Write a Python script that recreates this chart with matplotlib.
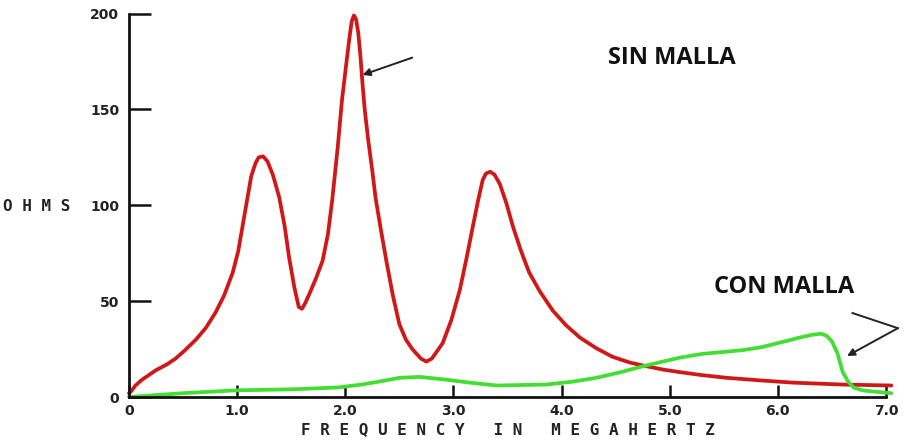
import matplotlib
matplotlib.use("Agg")
import matplotlib.pyplot as plt

# readings (MHz, ohms)
sin_freq = [0.0, 0.02, 0.06, 0.12, 0.25, 0.35, 0.43, 0.52, 0.62, 0.71, 0.80, 0.88,
            0.96, 1.01, 1.05, 1.09, 1.13, 1.17, 1.20, 1.24, 1.28, 1.33, 1.39, 1.44,
            1.48, 1.53, 1.57, 1.60, 1.63, 1.67, 1.73, 1.79, 1.84, 1.88, 1.93, 1.97,
            2.01, 2.04, 2.06, 2.08, 2.10, 2.12, 2.14, 2.16, 2.18, 2.21, 2.25, 2.28,
            2.33, 2.38, 2.44, 2.50, 2.56, 2.62, 2.70, 2.75, 2.80, 2.90, 2.98, 3.06,
            3.12, 3.18, 3.23, 3.27, 3.30, 3.34, 3.38, 3.43, 3.49, 3.55, 3.62, 3.70,
            3.80, 3.92, 4.04, 4.17, 4.32, 4.47, 4.63, 4.79, 4.94, 5.09, 5.30, 5.53,
            5.83, 6.14, 6.60, 7.05]
sin_ohms = [2, 3, 6, 9, 14, 17, 20, 24.5, 30, 36, 44, 53,
            65, 76, 89, 102, 115, 122, 125, 125.5, 123, 116, 104, 89,
            73, 57, 47, 46, 49, 54, 62, 71, 85, 103, 130, 155,
            174, 188, 196, 199, 197, 190, 178, 163, 150, 135, 118, 104,
            87, 71, 53, 38, 30, 25, 20, 18.5, 20, 28, 40, 56,
            72, 89, 103, 113, 116.5, 117.5, 116, 111, 101, 89, 77, 65,
            55, 45, 37.5, 31, 25.5, 21, 18, 16, 14.3, 13, 11.4, 10,
            8.7, 7.5, 6.5, 6]

con_freq = [0.0, 0.5, 1.0, 1.5, 1.94, 2.15, 2.31, 2.50, 2.69, 2.94, 3.15, 3.40,
            3.86, 4.10, 4.32, 4.55, 4.75, 4.90, 5.09, 5.30, 5.50, 5.68, 5.85, 5.99,
            6.10, 6.20, 6.32, 6.40, 6.45, 6.50, 6.55, 6.60, 6.65, 6.70, 6.78, 6.86,
            7.05]
con_ohms = [0, 2, 3.5, 4, 5, 6.5, 8, 10, 10.5, 9, 7.5, 6,
            6.5, 8, 10, 13, 16, 18, 20.5, 22.5, 23.5, 24.5, 26, 28,
            29.5, 31, 32.5, 33, 32, 29, 23, 13, 8, 5, 3.5, 3,
            2]

yticks = [0, 50, 100, 150, 200]
xticks = [0, 1, 2, 3, 4, 5, 6, 7]
xtick_labels = ["0", "1.0", "2.0", "3.0", "4.0", "5.0", "6.0", "7.0"]

fig = plt.figure(figsize=(9.05, 4.48), dpi=100)
ax = fig.add_axes([0.1425, 0.1138, 0.8365, 0.856])

ax.plot(sin_freq, sin_ohms, color="#d01818", lw=2.7, clip_on=False,
        solid_capstyle="round", solid_joinstyle="round")
ax.plot(con_freq, con_ohms, color="#44dd33", lw=2.7, clip_on=False,
        solid_capstyle="round", solid_joinstyle="round")

ax.set_xlim(0, 7)
ax.set_ylim(0, 200)
for s in ("top", "right"):
    ax.spines[s].set_visible(False)
for s in ("left", "bottom"):
    ax.spines[s].set_linewidth(2.0)
    ax.spines[s].set_color("#111111")

ax.set_yticks(yticks)
ax.set_xticks(xticks)
ax.set_xticklabels(xtick_labels)
ax.tick_params(axis="y", direction="in", length=16, width=1.8, pad=7, color="#111111")
ax.tick_params(axis="x", direction="in", length=9, width=1.8, pad=5, color="#111111")
for lab in ax.get_xticklabels() + ax.get_yticklabels():
    lab.set_fontfamily("DejaVu Sans")
    lab.set_fontweight("bold")
    lab.set_fontsize(10)
    lab.set_color("#222222")

ax.set_xlabel("F R E Q U E N C Y   I N   M E G A H E R T Z", family="DejaVu Sans Mono",
              fontweight="bold", fontsize=11.5, color="#222222", labelpad=3)
fig.text(3 / 905, 1 - 206 / 448, "O H M S", family="DejaVu Sans Mono", fontweight="bold",
         fontsize=11.5, color="#222222", ha="left", va="center")

ax.text(5.02, 177, "SIN MALLA", family="Open Sans", fontweight="bold", fontsize=17,
        ha="center", va="center", color="#111111")
ax.text(6.06, 57.3, "CON MALLA", family="Open Sans", fontweight="bold", fontsize=17,
        ha="center", va="center", color="#111111")

ax.annotate("", xy=(2.16, 168), xytext=(2.62, 177),
            arrowprops=dict(arrowstyle="-|>", color="#222222", lw=1.4, mutation_scale=11,
                            shrinkA=0, shrinkB=0))
ax.plot([6.69, 7.11], [43.8, 35.9], color="#222222", lw=1.4, clip_on=False)
ax.annotate("", xy=(6.64, 21.4), xytext=(7.11, 35.9), annotation_clip=False,
            arrowprops=dict(arrowstyle="-|>", color="#222222", lw=1.4, mutation_scale=11,
                            shrinkA=0, shrinkB=0))

fig.savefig("out.png", dpi=100)
